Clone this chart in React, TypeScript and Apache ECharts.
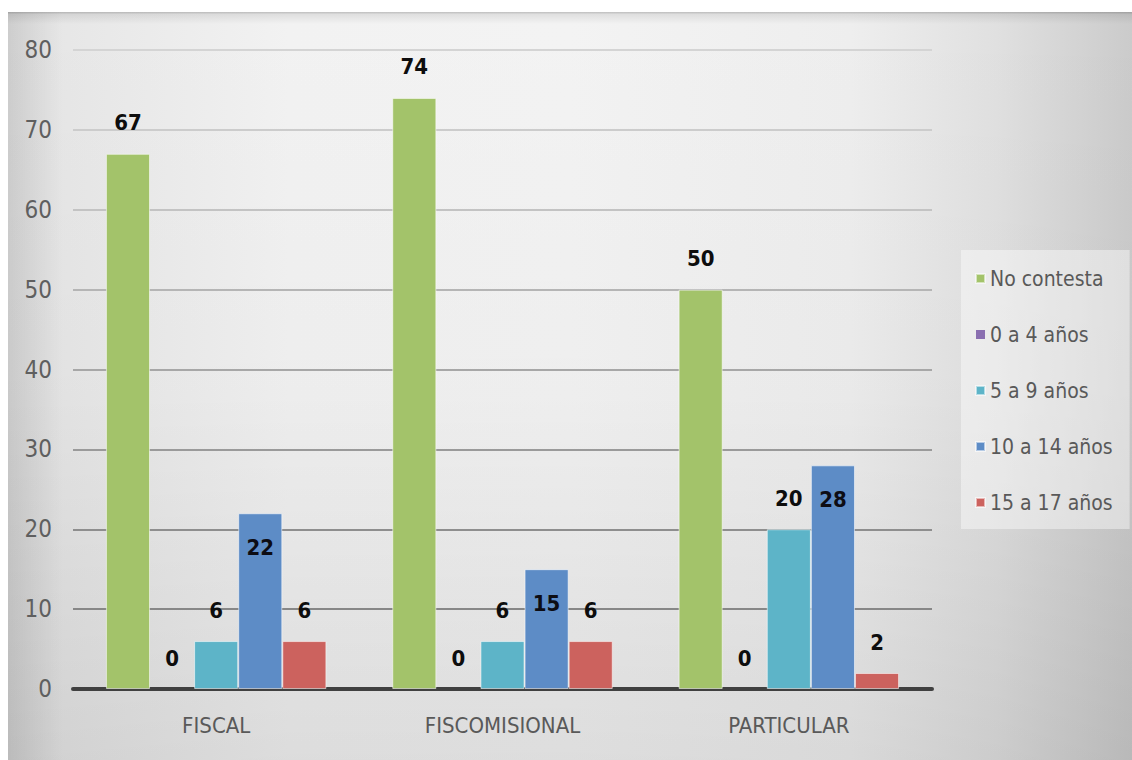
import React, { useEffect, useRef } from "react";
import * as echarts from "echarts";

// Categories and series values
const categories = ["FISCAL", "FISCOMISIONAL", "PARTICULAR"];
const seriesNames = ["No contesta", "0 a 4 años", "5 a 9 años", "10 a 14 años", "15 a 17 años"];
const noContesta = [67, 74, 50];
const edad0a4 = [0, 0, 0];
const edad5a9 = [6, 6, 20];
const edad10a14 = [22, 15, 28];
const edad15a17 = [6, 6, 2];
const seriesValues = [noContesta, edad0a4, edad5a9, edad10a14, edad15a17];
const seriesColors = ["#a3c36a", "#8a6fb0", "#5db4c8", "#5d8cc6", "#cc625e"];

// Value axis range
const yMin = 0;
const yMax = 80;
const yStep = 10;

// Grid line shades from 0 up to 80 (fading towards the top)
const gridShades = ["#808080", "#878787", "#8e8e8e", "#9a9a9a", "#a7a7a7", "#b5b5b5", "#c3c3c3", "#cccccc", "#d4d4d4"];

const NARROW = '"Liberation Sans Narrow", "Arial Narrow", "DejaVu Sans Condensed", sans-serif';
const LEGEND_FONT = '"DejaVu Sans Condensed", "Liberation Sans", sans-serif';

export default function App() {
  const ref = useRef<HTMLDivElement>(null);

  useEffect(() => {
    if (!ref.current) return;
    const chart = echarts.init(ref.current, null, { renderer: "svg" });

    const series = seriesNames.map((name, i) => {
      const inside = i === 3;
      return {
        name,
        type: "bar",
        data: seriesValues[i],
        barGap: "0%",
        barCategoryGap: "23%",
        itemStyle: {
          color: seriesColors[i],
          borderColor: "rgba(255,255,255,0.55)",
          borderWidth: i === 1 ? 0 : 1,
        },
        label: {
          show: true,
          position: inside ? "insideTop" : "top",
          distance: inside ? 23 : 20,
          fontFamily: NARROW,
          fontWeight: "bold",
          fontSize: 22,
          color: inside ? "#0d0d14" : "#0d0d0d",
        },
        emphasis: { disabled: true },
        z: 3,
      };
    });

    chart.setOption({
      animation: false,
      textStyle: { fontFamily: NARROW },
      graphic: [
        {
          type: "rect",
          z: -10,
          silent: true,
          shape: { x: 8, y: 12, width: 1124, height: 748 },
          style: {
            fill: new echarts.graphic.LinearGradient(0, 0, 1, 0, [
              { offset: 0, color: "#e4e4e4" },
              { offset: 0.25, color: "#f2f2f2" },
              { offset: 0.5, color: "#f3f3f3" },
              { offset: 0.75, color: "#eeeeee" },
              { offset: 0.88, color: "#e0e0e0" },
              { offset: 1, color: "#cbcbcb" },
            ]),
          },
        },
        {
          type: "rect",
          z: -9,
          silent: true,
          shape: { x: 8, y: 12, width: 1124, height: 748 },
          style: {
            fill: new echarts.graphic.LinearGradient(0, 0, 0, 1, [
              { offset: 0, color: "rgba(0,0,0,0)" },
              { offset: 0.5, color: "rgba(0,0,0,0.02)" },
              { offset: 1, color: "rgba(0,0,0,0.09)" },
            ]),
          },
        },
        {
          type: "rect",
          z: -9,
          silent: true,
          shape: { x: 8, y: 12, width: 55, height: 748 },
          style: {
            fill: new echarts.graphic.LinearGradient(0, 0, 1, 0, [
              { offset: 0, color: "rgba(0,0,0,0.10)" },
              { offset: 1, color: "rgba(0,0,0,0)" },
            ]),
          },
        },
        {
          type: "rect",
          z: -9,
          silent: true,
          shape: { x: 8, y: 12, width: 1124, height: 12 },
          style: {
            fill: new echarts.graphic.LinearGradient(0, 0, 0, 1, [
              { offset: 0, color: "rgba(0,0,0,0.22)" },
              { offset: 0.2, color: "rgba(0,0,0,0.08)" },
              { offset: 1, color: "rgba(0,0,0,0)" },
            ]),
          },
        },
      ],
      grid: { left: 73, right: 200, top: 50, bottom: 71, containLabel: false },
      legend: {
        orient: "vertical",
        left: 961,
        top: 250,
        padding: [18, 17, 16, 14],
        backgroundColor: "rgba(255,255,255,0.42)",
        itemWidth: 9,
        itemHeight: 9,
        itemGap: 35,
        icon: "rect",
        selectedMode: false,
        textStyle: { fontFamily: LEGEND_FONT, fontSize: 21, color: "#595959" },
        data: seriesNames,
      },
      xAxis: {
        type: "category",
        data: categories,
        axisLine: { show: true, lineStyle: { color: "#404040", width: 4 } },
        axisTick: { show: false },
        axisLabel: { fontFamily: NARROW, fontSize: 22, color: "#595959", margin: 25 },
        splitLine: { show: false },
      },
      yAxis: {
        type: "value",
        min: yMin,
        max: yMax,
        interval: yStep,
        axisLine: { show: false },
        axisTick: { show: false },
        axisLabel: { fontFamily: NARROW, fontSize: 24, color: "#5f5f5f", margin: 21 },
        splitLine: { show: true, lineStyle: { color: gridShades, width: 2 } },
      },
      series,
    });

    return () => chart.dispose();
  }, []);

  return (
    <div
      ref={ref}
      style={{ position: "fixed", left: 0, top: 0, width: 1132, height: 760, background: "#ffffff" }}
    />
  );
}
